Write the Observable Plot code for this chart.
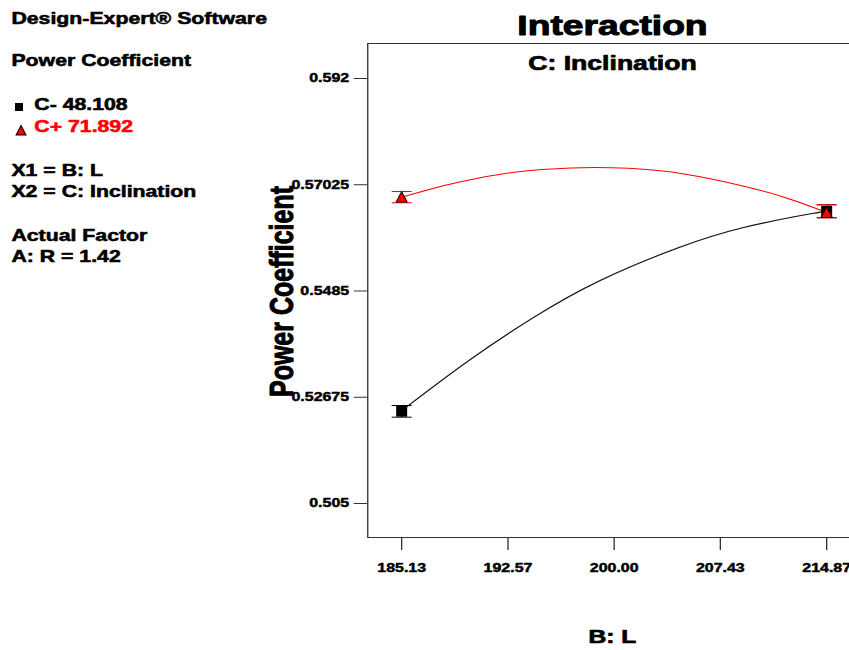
<!DOCTYPE html>
<html><head><meta charset="utf-8">
<script src="https://cdn.jsdelivr.net/npm/d3@7"></script>
<script src="https://cdn.jsdelivr.net/npm/@observablehq/plot@0.6"></script>
<style>
html,body{margin:0;padding:0;width:849px;height:650px;overflow:hidden;background:#fff}
#wrap{position:absolute;left:0;top:0;width:652px;height:650px;transform:scaleX(1.33);transform-origin:0 0}
#wrap g[aria-label="x-axis tick label"] text, #wrap g[aria-label="y-axis tick label"] text{stroke:#000;stroke-width:0.45px;stroke-linejoin:round}
</style></head><body><div id="wrap"></div>
<script>
const S = 1.33; // horizontal stretch of the original picture

// ---- data ----
const xTicks = [185.13, 192.57, 200.00, 207.43, 214.87];
const xTickLabels = ["185.13", "192.57", "200.00", "207.43", "214.87"];
const yTicks = [0.505, 0.52675, 0.5485, 0.57025, 0.592];
const yTickLabels = ["0.505", "0.52675", "0.5485", "0.57025", "0.592"];

// C- 48.108 (black) fitted curve
const lowCurveL = [185.13, 189.75, 194.37, 199.06, 204.44, 209.06, 213.75, 214.87];
const lowCurvePC = [0.5240, 0.5341, 0.5431, 0.5507, 0.5573, 0.5615, 0.5643, 0.5648];
// C+ 71.892 (red) fitted curve
const highCurveL = [185.13, 189.0, 193.0, 197.0, 201.0, 205.0, 209.0, 212.0, 214.87];
const highCurvePC = [0.5677, 0.5707, 0.5728, 0.5737, 0.5736, 0.5724, 0.5700, 0.5676, 0.5646];

// design points with LSD bars
const pointL = [185.13, 214.87];
const lowPC = [0.5239, 0.5648];
const lowLo = [0.52267, 0.56348];
const lowHi = [0.52506, 0.56614];
const highPC = [0.5677, 0.5646];
const highLo = [0.56656, 0.56348];
const highHi = [0.56887, 0.56614];

const seriesNames = ["C- 48.108", "C+ 71.892"];
const seriesColors = ["#000000", "#ff0000"];
const infoLines = ["Design-Expert® Software", "Power Coefficient", "X1 = B: L", "X2 = C: Inclination", "Actual Factor", "A: R = 1.42"];

// ---- tables ----
const lowCurve = lowCurveL.map((L, i) => ({L, pc: lowCurvePC[i]}));
const highCurve = highCurveL.map((L, i) => ({L, pc: highCurvePC[i]}));
const lowPts = pointL.map((L, i) => ({L, pc: lowPC[i], lo: lowLo[i], hi: lowHi[i]}));
const highPts = pointL.map((L, i) => ({L, pc: highPC[i], lo: highLo[i], hi: highHi[i]}));

// symbols compensated for the horizontal stretch
const sq = {draw(ctx, size) { const r = Math.sqrt(size / Math.PI), w = r / S;
  ctx.moveTo(-w, -r); ctx.lineTo(w, -r); ctx.lineTo(w, r); ctx.lineTo(-w, r); ctx.closePath(); }};
const tri = {draw(ctx, size) { const r = Math.sqrt(size / Math.PI), w = r / S;
  ctx.moveTo(0, -r); ctx.lineTo(w, r * 0.9); ctx.lineTo(-w, r * 0.9); ctx.closePath(); }};
const cap = {draw(ctx, size) { const r = Math.sqrt(size / Math.PI), w = r / S;
  ctx.moveTo(-w, 0); ctx.lineTo(w, 0); }};

const chart = Plot.plot({
  width: 652, height: 650,
  marginLeft: 276, marginRight: 5.45, marginTop: 43, marginBottom: 113,
  style: {fontFamily: "'Liberation Sans', Arial, sans-serif", fontWeight: "bold", fontSize: "12px", background: "#fff", color: "#000"},
  x: {domain: [182.757, 217.243]},
  y: {domain: [0.49804, 0.59916]},
  marks: [
    Plot.frame({stroke: "#333"}),
    Plot.axisX({ticks: xTicks, tickFormat: d => xTickLabels[xTicks.indexOf(d)], tickSize: 13, tickPadding: 13, label: null, stroke: "#333"}),
    Plot.axisY({ticks: yTicks, tickFormat: d => yTickLabels[yTicks.indexOf(d)], tickSize: 10, tickPadding: 4, label: null, stroke: "#333"}),
    Plot.line(lowCurve, {x: "L", y: "pc", stroke: "#111", strokeWidth: 1.1, curve: "natural"}),
    Plot.line(highCurve, {x: "L", y: "pc", stroke: "#ff0000", strokeWidth: 1, curve: "natural"}),
    Plot.ruleX(lowPts, {x: "L", y1: "lo", y2: "hi", stroke: "#000"}),
    Plot.dot(lowPts, {x: "L", y: "lo", symbol: cap, r: 10, stroke: "#000", fill: "none", strokeWidth: 1}),
    Plot.dot(lowPts, {x: "L", y: "hi", symbol: cap, r: 10, stroke: "#000", fill: "none", strokeWidth: 1}),
    Plot.dot(lowPts, {x: "L", y: "pc", symbol: sq, r: 5.5, fill: "#000", stroke: "none"}),
    Plot.ruleX(highPts, {x: "L", y1: "lo", y2: "hi", stroke: "#ff0000"}),
    Plot.dot(highPts, {x: "L", y: "lo", symbol: cap, r: 10, stroke: "#ff0000", fill: "none", strokeWidth: 1}),
    Plot.dot(highPts, {x: "L", y: "hi", symbol: cap, r: 10, stroke: "#ff0000", fill: "none", strokeWidth: 1}),
    Plot.dot(highPts, {x: "L", y: "pc", symbol: tri, r: 5.5, fill: "#ff0000", stroke: "#000", strokeWidth: 0.8})
  ]
});
document.getElementById("wrap").appendChild(chart);

// ---- annotation text ----
const svg = d3.select(chart);
const g = svg.append("g").attr("font-family", "'Liberation Sans', Arial, sans-serif").attr("font-weight", "bold");
function txt(x, y, s, size, sw, opts = {}) {
  const col = opts.fill || "#000";
  const t = g.append("text").attr("x", x).attr("y", y).attr("font-size", size).attr("fill", col)
    .attr("stroke", col).attr("stroke-width", sw).attr("stroke-linejoin", "round")
    .attr("text-anchor", opts.anchor || "start").text(s);
  if (opts.transform) t.attr("transform", opts.transform).attr("x", 0).attr("y", 0);
  return t;
}
const cx = 460.5;
txt(cx, 35, "Interaction", 28, 1.0, {anchor: "middle"});
txt(cx, 70, "C: Inclination", 20, 0.7, {anchor: "middle"});
txt(cx, 643, "B: L", 18.5, 0.7, {anchor: "middle"});
txt(0, 0, "Power Coefficient", 25, 0.8, {anchor: "middle", transform: "translate(220,291.5) rotate(-90)"});

const lx = 8.6;
txt(lx, 24.5, infoLines[0], 16, 0.55);
txt(lx, 66, infoLines[1], 16, 0.55);
txt(25.8, 110, seriesNames[0], 16, 0.55, {fill: seriesColors[0]});
txt(25.8, 132, seriesNames[1], 16, 0.55, {fill: seriesColors[1]});
txt(lx, 176, infoLines[2], 16, 0.55);
txt(lx, 197.5, infoLines[3], 16, 0.55);
txt(lx, 241, infoLines[4], 16, 0.55);
txt(lx, 262, infoLines[5], 16, 0.55);
// legend symbols
g.append("path").attr("d", d3.symbol(sq, Math.PI * 16)()).attr("transform", "translate(14.3,107)").attr("fill", "#000");
g.append("path").attr("d", d3.symbol(tri, Math.PI * 25)()).attr("transform", "translate(15.8,130.5)").attr("fill", "#ff0000").attr("stroke", "#000").attr("stroke-width", 0.8);
</script></body></html>
